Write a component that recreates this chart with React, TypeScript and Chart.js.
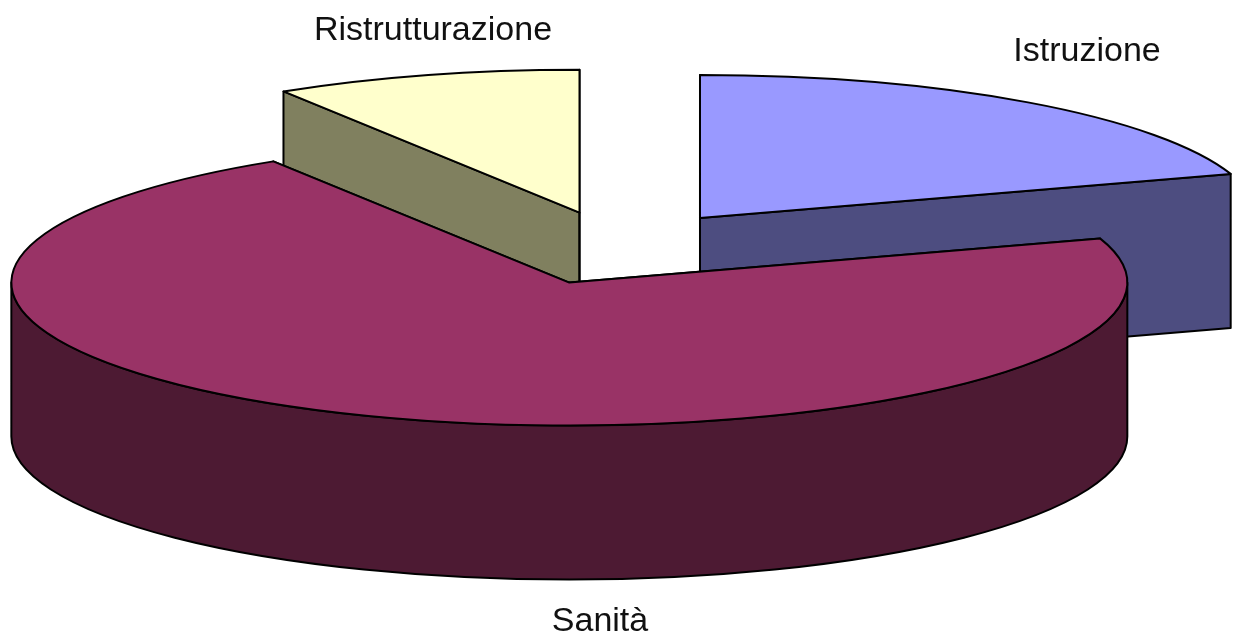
import React, { useEffect, useRef } from "react";
import { Chart, registerables } from "chart.js";

Chart.register(...registerables);

const categories = ["Istruzione", "Sanità", "Ristrutturazione"];
const shares = [20, 71.1, 8.9];
const topColors = ["#9999ff", "#993366", "#ffffcc"];
const wallColors = ["#4d4d80", "#4d1a33", "#80805f"];

// Geometry of the projected pie
const CENTER = { x: 618, y: 247 };
const RX = 558;
const RY = 143;
const DEPTH = 154;
const EXPLODE = 0.25;
const DRAW_ORDER = [2, 0, 1];
const NUDGE = [
  { x: 0, y: 0 },
  { x: -1, y: 2 },
  { x: 0, y: 0 },
];
const LABEL_POS = [
  { x: 1087, y: 52 },
  { x: 600, y: 622 },
  { x: 433, y: 31 },
];
const LABEL_FONT = '34px "Liberation Sans", Arial, sans-serif';
const LABEL_COLOR = "#111111";
const LINE = "#000000";

const pie3d = {
  id: "pie3d",
  beforeDatasetDraw(chart: any) {
    const ctx: CanvasRenderingContext2D = chart.ctx;
    const arcs = chart.getDatasetMeta(0).data;
    const edge = (cx: number, cy: number, a: number) => ({
      x: cx + Math.cos(a) * RX,
      y: cy + Math.sin(a) * RY,
    });
    DRAW_ORDER.forEach((i) => {
      const el = arcs[i];
      const { startAngle: s, endAngle: e, x, y, outerRadius: R } = el;
      const mid = (s + e) / 2;
      const cx = CENTER.x + Math.cos(mid) * EXPLODE * RX + NUDGE[i].x;
      const cy = CENTER.y + Math.sin(mid) * EXPLODE * RY + NUDGE[i].y;

      ctx.save();
      ctx.lineWidth = 2;
      ctx.lineJoin = "round";
      ctx.strokeStyle = LINE;
      ctx.fillStyle = wallColors[i];

      // radial walls
      [s, e].forEach((a) => {
        const p = edge(cx, cy, a);
        ctx.beginPath();
        ctx.moveTo(cx, cy);
        ctx.lineTo(p.x, p.y);
        ctx.lineTo(p.x, p.y + DEPTH);
        ctx.lineTo(cx, cy + DEPTH);
        ctx.closePath();
        ctx.fill();
        ctx.stroke();
      });

      // outer rim on the front half
      const a0 = Math.max(s, 0);
      const a1 = Math.min(e, Math.PI);
      if (a1 > a0) {
        ctx.beginPath();
        ctx.ellipse(cx, cy, RX, RY, 0, a0, a1);
        ctx.ellipse(cx, cy + DEPTH, RX, RY, 0, a1, a0, true);
        ctx.closePath();
        ctx.fill();
        ctx.stroke();
      }

      // top face: the library's own arc element, projected
      ctx.save();
      ctx.translate(cx, cy);
      ctx.scale(RX / R, RY / R);
      ctx.translate(-x, -y);
      el.draw(ctx, chart.chartArea);
      ctx.restore();

      ctx.beginPath();
      ctx.moveTo(cx, cy);
      ctx.ellipse(cx, cy, RX, RY, 0, s, e);
      ctx.closePath();
      ctx.stroke();
      ctx.restore();
    });
    return false;
  },
  afterDraw(chart: any) {
    const ctx: CanvasRenderingContext2D = chart.ctx;
    ctx.save();
    ctx.font = LABEL_FONT;
    ctx.fillStyle = LABEL_COLOR;
    ctx.textAlign = "center";
    ctx.textBaseline = "middle";
    chart.data.labels.forEach((t: string, i: number) => {
      ctx.fillText(t, LABEL_POS[i].x, LABEL_POS[i].y);
    });
    ctx.restore();
  },
};

export default function App() {
  const ref = useRef<HTMLCanvasElement>(null);
  useEffect(() => {
    const chart = new Chart(ref.current!, {
      type: "pie",
      data: {
        labels: categories,
        datasets: [
          {
            data: shares,
            backgroundColor: topColors,
            borderWidth: 0,
            clip: false,
          } as any,
        ],
      },
      options: {
        animation: false,
        responsive: false,
        radius: 200,
        plugins: { legend: { display: false }, tooltip: { enabled: false } },
      } as any,
      plugins: [pie3d],
    });
    return () => chart.destroy();
  }, []);
  return (
    <canvas
      ref={ref}
      width={1233}
      height={637}
      style={{ position: "fixed", left: 0, top: 0, display: "block", background: "#fff" }}
    />
  );
}
